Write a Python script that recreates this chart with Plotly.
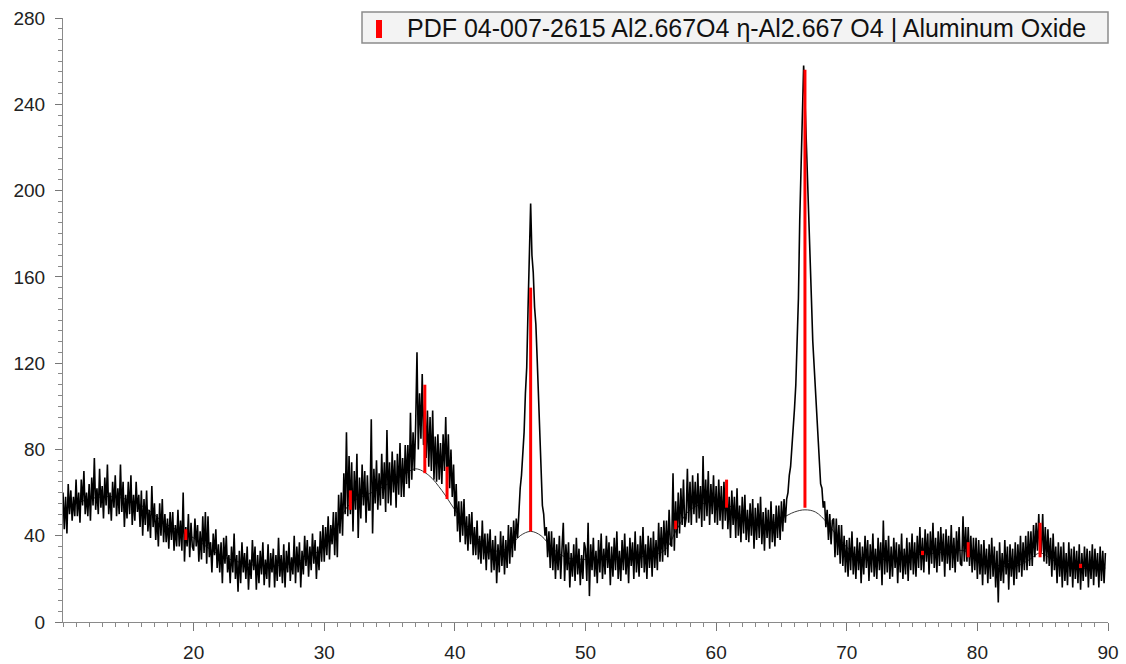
import plotly.graph_objects as go

# ---- scan settings (2-theta, degrees) ----
scan_start = 10.0
scan_step = 0.1

int_10_20 = [60,43,58,41,64,50,61,47,58,49, 66,49,60,46,66,54,70,50,60,49,
             64,47,67,54,76,52,62,50,71,53, 63,48,67,54,73,50,60,47,65,53,
             68,49,62,50,73,51,65,44,59,48, 65,50,68,45,59,47,65,51,59,44,
             61,40,57,45,61,42,52,39,63,44, 55,38,50,35,55,40,57,37,50,37,
             48,34,51,38,51,33,45,35,52,35, 47,33,60,28,44,35,50,30,46,35]
int_20_30 = [33,48,35,45,28,42,29,49,32,51, 27,49,30,37,23,41,31,43,25,36,
             23,37,18,39,27,40,23,31,18,35, 23,41,20,31,14,33,18,37,23,32,
             20,35,15,29,20,38,24,35,15,31, 18,33,22,37,17,29,20,36,16,32,
             23,34,16,31,19,39,21,31,18,36, 16,33,23,37,19,30,22,40,18,35,
             23,37,16,33,22,40,26,38,21,35, 24,41,27,38,20,35,24,42,28,45]
int_30_40 = [28,44,31,49,29,45,36,51,31,51, 30,59,41,60,40,69,50,88,49,77,
             50,74,42,70,52,78,39,67,48,73, 54,70,46,68,52,52,94,41,71,55,
             75,52,69,54,78,57,74,51,89,55, 74,54,79,60,75,53,78,59,83,58,
             76,58,82,64,82,62,97,66,88,70, 92,125,80,106,85,115,82,102,76,98,
             72,95,70,98,66,86,65,87,66,83, 64,87,70,95,65,87,62,80,58,73]
int_40_50 = [49,64,42,56,37,56,40,57,36,49, 33,50,36,51,31,44,31,47,29,40,
             27,47,29,41,24,41,29,43,23,38, 24,40,18,36,23,42,26,40,22,38,
             25,45,27,44,30,47,33,48,39,53, 62,68,79,88,106,118,145,174,194,170,
             162,146,138,122,104,80,68,54,50,40, 44,30,42,25,42,24,39,20,36,24,
             40,20,34,46,19,36,24,37,16,32, 21,36,19,39,22,34,17,31,20,37]
int_50_60 = [34,19,46,12,36,24,39,21,33,18, 38,23,41,20,34,22,40,25,37,17,
             35,21,39,24,42,20,33,19,38,24, 41,22,35,18,39,26,37,20,42,23,
             36,21,40,25,44,23,36,20,40,25, 39,21,42,25,38,24,46,28,44,28,
             47,31,47,30,52,36,35,69,33,56, 39,60,41,62,45,66,44,48,71,46,
             65,45,68,50,65,46,69,48,63,44, 77,47,66,49,70,45,64,50,68,46]
int_60_70 = [63,45,66,47,63,43,65,47,62,43, 58,39,61,45,58,39,62,40,54,37,
             58,41,59,38,52,37,55,40,57,34, 53,38,55,39,58,36,51,33,53,39,
             52,34,56,37,50,35,54,39,54,38, 56,42,57,46,57,60,68,72,81,88,
             99,110,127,150,186,214,240,258,242,222, 198,182,164,149,130,119,106,94,80,74,
             64,62,53,56,44,52,38,50,36,47, 48,30,48,31,45,27,45,26,40,23]
int_70_80 = [38,21,39,24,42,22,35,20,39,24, 37,18,35,22,40,25,38,19,36,23,
             41,21,34,20,39,24,37,17,47,22, 38,23,40,20,35,21,39,25,37,18,
             36,23,41,20,34,22,39,19,37,24, 41,22,37,21,40,25,44,24,39,23,
             43,28,41,22,42,27,46,25,39,23, 42,26,44,28,41,21,43,27,40,24,
             45,25,39,23,42,28,44,27,26,49, 28,44,28,44,26,40,23,39,24,39]
int_80_90 = [20,38,22,36,17,38,22,34,18,36, 20,39,21,35,16,33,9,37,19,32,
             18,38,22,35,15,36,21,34,17,37, 20,36,23,40,21,37,24,40,24,42,
             26,42,26,45,30,46,33,50,31,33, 50,28,44,27,43,26,39,21,41,24,
             35,18,37,21,35,16,37,19,32,17, 37,21,34,16,35,20,33,18,36,15,
             32,19,35,21,34,16,33,20,36,17, 34,21,32,16,35,19,33,18,32]

# ---- fitted background curve ----
bg_x = [10, 12, 14, 16, 18, 20, 22, 24, 26, 28, 30, 31, 32, 34, 36, 37, 38, 39, 40, 41,
        42, 43, 44, 45, 45.8, 46.6, 47.5, 48.5, 50, 52, 54, 56, 57, 58, 60, 61, 62, 64,
        65, 66, 66.8, 67.6, 68.5, 69.5, 71, 73, 75, 77, 79, 81, 83, 84, 84.8, 86, 88, 89.8]
bg_y = [52, 57, 58, 54, 45, 39, 31, 27, 26, 28, 35, 45, 55, 61, 68, 71, 68, 61, 52, 44,
        37, 33, 34, 40, 42, 40, 34, 30, 29, 29, 30, 33, 43, 52, 56, 54, 49, 45,
        48, 51, 52, 51, 46, 38, 30, 29, 31, 32, 33, 27, 26, 29, 32, 28, 25, 25]

# ---- reference pattern sticks (PDF 04-007-2615) ----
stick_x = [19.4, 32.0, 37.7, 39.4, 45.8, 56.9, 60.8, 66.8, 75.8, 79.3, 84.8, 87.9]
stick_base = [38, 52, 69, 57, 42, 43, 53, 53, 31, 30, 30, 25]
stick_top = [43, 61, 110, 72, 155, 47, 66, 256, 33, 37, 46, 27]

legend_text = "PDF 04-007-2615 Al2.667O4 η-Al2.667 O4 | Aluminum Oxide"
x_tick_vals = [20, 30, 40, 50, 60, 70, 80, 90]
y_tick_vals = [0, 40, 80, 120, 160, 200, 240, 280]

intensity = (int_10_20 + int_20_30 + int_30_40 + int_40_50 +
             int_50_60 + int_60_70 + int_70_80 + int_80_90)
two_theta = [round(scan_start + scan_step * i, 2) for i in range(len(intensity))]

sx, sy = [], []
for p, b, t in zip(stick_x, stick_base, stick_top):
    sx += [p, p, None]
    sy += [b, t, None]

fig = go.Figure()
fig.add_trace(go.Scatter(x=bg_x, y=bg_y, mode="lines", line_shape="spline",
                         line=dict(color="#3a3a3a", width=1), showlegend=False,
                         hoverinfo="skip"))
fig.add_trace(go.Scatter(x=two_theta, y=intensity, mode="lines",
                         line=dict(color="#000000", width=1.6), showlegend=False,
                         hoverinfo="skip"))
fig.add_trace(go.Scatter(x=sx, y=sy, mode="lines",
                         line=dict(color="#ff0000", width=3), showlegend=False,
                         hoverinfo="skip"))

W, H = 1126, 664
ml, mr, mt, mb = 63, 18, 18, 42
pw, ph = W - ml - mr, H - mt - mb

def px(x):
    return (x - ml) / pw

def py(y):
    return (H - mb - y) / ph

fig.add_shape(type="rect", xref="paper", yref="paper",
              x0=px(362), x1=px(1108), y0=py(43), y1=py(12),
              fillcolor="#f3f3f3", line=dict(color="#8c8c8c", width=1.5), layer="above")
fig.add_shape(type="rect", xref="paper", yref="paper",
              x0=px(376), x1=px(382), y0=py(38), y1=py(20),
              fillcolor="#ff0000", line=dict(width=0), layer="above")
fig.add_annotation(xref="paper", yref="paper", x=px(405), y=py(28),
                   xanchor="left", yanchor="middle", showarrow=False,
                   text=legend_text,
                   font=dict(family="Liberation Sans, Arial, sans-serif", size=25, color="#111"))

axis_font = dict(family="Liberation Sans, Arial, sans-serif", size=19, color="#222")
fig.update_layout(
    width=W, height=H,
    margin=dict(l=ml, r=mr, t=mt, b=mb, pad=0, autoexpand=False),
    paper_bgcolor="white", plot_bgcolor="white",
    xaxis=dict(range=[10, 90], tickvals=x_tick_vals, showgrid=False, zeroline=False,
               automargin=False,
               showline=True, linecolor="#8a8a8a", linewidth=1,
               ticks="outside", ticklen=8, tickcolor="#777", tickwidth=1,
               minor=dict(dtick=1, ticks="outside", ticklen=4, tickcolor="#888", showgrid=False),
               tickfont=axis_font, ticklabelstandoff=5),
    yaxis=dict(range=[0, 280], tickvals=y_tick_vals, showgrid=False, zeroline=False,
               automargin=False,
               showline=True, linecolor="#8a8a8a", linewidth=1,
               ticks="outside", ticklen=7, tickcolor="#777", tickwidth=1,
               minor=dict(dtick=5, ticks="outside", ticklen=4, tickcolor="#888", showgrid=False),
               tickfont=axis_font, ticklabelstandoff=6),
)

fig.write_html("out.html")
